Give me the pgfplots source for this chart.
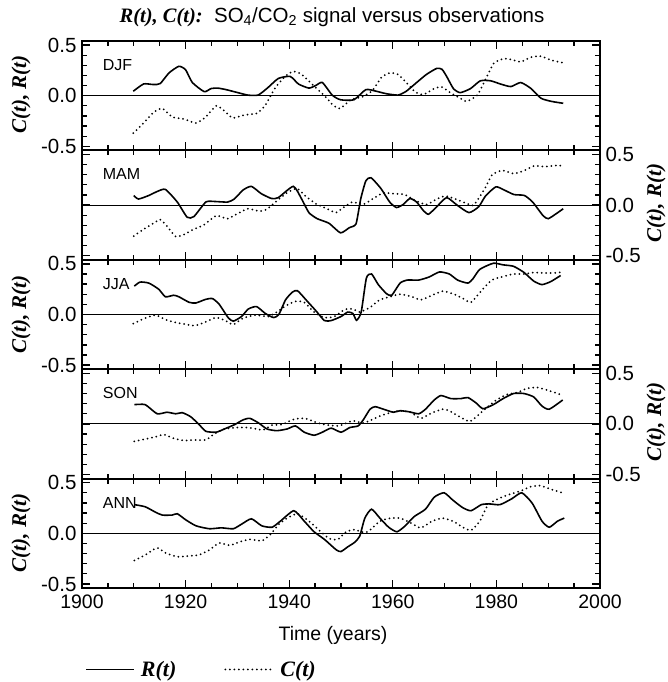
\documentclass[border=0pt]{standalone}
\usepackage{fontspec}
\setmainfont{Liberation Sans}
\newfontfamily\tms{Liberation Serif}
\usepackage{pgfplots}
\pgfplotsset{compat=1.18}
\pgfplotsset{
 panel/.style={
  scale only axis, width=518pt, height=109.4pt, anchor=north west,
  xmin=1900, xmax=2000, ymin=-0.54, ymax=0.54,
  xtick={1900,1920,...,2000}, minor x tick num=3,
  ytick={-0.5,0,0.5}, minor y tick num=4,
  xticklabels={}, yticklabels={},
  axis line style={line width=1.8pt},
  tick style={black, line width=1.3pt},
  major tick length=8pt, minor tick length=5pt,
  tick label style={font=\fontsize{20.5}{20.5}\selectfont},
 },
 Rline/.style={black, line width=1.6pt, smooth, tension=0.35, mark=none},
 Cline/.style={black, line width=2pt, line cap=round, dash pattern=on 0pt off 4.5pt, smooth, tension=0.35, mark=none},
}
\tikzset{plab/.style={anchor=west, inner sep=0pt, font=\fontsize{16}{16}\selectfont}}
\newcommand{\ylab}{\fontsize{21}{21}\selectfont\tms\bfseries\itshape C(t), R(t)}
\begin{document}
\begin{tikzpicture}
\path[use as bounding box] (0,0) rectangle (668pt,-682pt);
\node[font=\fontsize{20.5}{20.5}\selectfont] at (332pt,-17pt) {{\tms\bfseries\itshape R(t), C(t):}\ \ SO\textsubscript{4}/CO\textsubscript{2} signal versus observations};
% DJF
\begin{axis}[panel, at={(82pt,-41pt)}, yticklabels={-0.5,0.0,0.5}, yticklabel style={xshift=-2pt}]
\draw[line width=0.9pt] (axis cs:1900,0) -- (axis cs:2000,0);
\node[plab] at (rel axis cs:0.04,0.78) {DJF};
\addplot[Rline] coordinates {(1909.9,0.044)(1911.9,0.116)(1913.8,0.11)(1915.1,0.12)(1916.8,0.225)(1918.7,0.29)(1920.0,0.256)(1921.3,0.13)(1923.6,0.04)(1924.9,0.07)(1926.2,0.075)(1927.8,0.06)(1930.1,0.03)(1932.0,0.006)(1934.0,0.006)(1935.9,0.08)(1937.9,0.17)(1940.2,0.19)(1941.8,0.115)(1943.8,0.075)(1945.1,0.1)(1946.4,0.13)(1948.3,0.006)(1949.9,-0.04)(1952.5,-0.04)(1954.8,0.06)(1956.8,0.044)(1958.7,0.02)(1961.0,0.006)(1962.6,0.044)(1964.6,0.13)(1966.5,0.21)(1968.5,0.27)(1969.5,0.26)(1970.4,0.19)(1971.7,0.07)(1973.0,0.03)(1975.0,0.07)(1976.9,0.147)(1978.9,0.147)(1980.8,0.115)(1982.8,0.09)(1984.7,0.13)(1986.7,0.07)(1988.6,-0.025)(1990.6,-0.056)(1992.9,-0.075)};
\addplot[Cline] coordinates {(1909.9,-0.37)(1911.9,-0.27)(1913.8,-0.166)(1915.5,-0.125)(1917.4,-0.21)(1919.7,-0.23)(1922.0,-0.27)(1923.9,-0.21)(1925.9,-0.10)(1927.5,-0.15)(1929.1,-0.22)(1931.4,-0.19)(1933.7,-0.175)(1935.3,-0.10)(1937.2,0.07)(1939.2,0.19)(1940.8,0.24)(1942.4,0.21)(1944.7,0.10)(1947.0,-0.01)(1948.6,-0.10)(1949.9,-0.125)(1951.9,-0.04)(1954.2,-0.01)(1956.1,0.053)(1957.8,0.18)(1959.4,0.225)(1961.0,0.21)(1962.3,0.147)(1964.3,0.038)(1965.9,0.0125)(1968.2,0.075)(1969.5,0.084)(1971.4,0.02)(1973.0,-0.025)(1974.3,-0.056)(1976.3,0.006)(1977.6,0.13)(1979.5,0.32)(1981.5,0.366)(1983.4,0.35)(1984.7,0.334)(1986.7,0.38)(1988.6,0.39)(1990.6,0.35)(1992.9,0.325)};
\end{axis}
% MAM
\begin{axis}[panel, at={(82pt,-150.4pt)}, yticklabel pos=right, yticklabels={-0.5,0.0,0.5}, yticklabel style={xshift=2pt}]
\draw[line width=0.9pt] (axis cs:1900,0) -- (axis cs:2000,0);
\node[plab] at (rel axis cs:0.04,0.78) {MAM};
\addplot[Rline] coordinates {(1910.0,0.095)(1910.9,0.06)(1912.9,0.095)(1914.5,0.134)(1916.1,0.155)(1918.4,0.03)(1920.3,-0.12)(1921.6,-0.113)(1923.9,0.03)(1925.5,0.036)(1928.1,0.03)(1929.4,0.06)(1931.1,0.149)(1932.7,0.185)(1934.6,0.113)(1936.6,0.065)(1937.9,0.074)(1940.8,0.185)(1942.4,0.06)(1943.8,-0.074)(1945.4,-0.134)(1947.7,-0.18)(1949.9,-0.274)(1951.6,-0.223)(1952.9,-0.185)(1953.8,0.06)(1954.8,0.24)(1955.8,0.27)(1957.7,0.164)(1959.4,0.03)(1960.7,-0.024)(1962.0,0.006)(1963.3,0.065)(1964.6,0.03)(1965.9,-0.054)(1966.9,-0.09)(1968.5,-0.015)(1970.4,0.074)(1972.4,0)(1974.7,-0.074)(1976.6,-0.015)(1977.9,0.09)(1979.9,0.18)(1981.5,0.149)(1983.4,0.104)(1985.4,0.095)(1987.0,0.03)(1989.0,-0.104)(1990.0,-0.134)(1991.6,-0.083)(1992.9,-0.036)};
\addplot[Cline] coordinates {(1910.0,-0.306)(1911.9,-0.238)(1913.8,-0.18)(1915.1,-0.143)(1916.4,-0.208)(1918.1,-0.31)(1919.7,-0.29)(1921.6,-0.238)(1923.6,-0.193)(1925.9,-0.104)(1928.1,-0.134)(1930.1,-0.083)(1932.0,-0.036)(1934.3,-0.06)(1935.6,-0.045)(1937.2,0.024)(1939.5,0.119)(1941.5,0.164)(1943.1,0.09)(1945.1,0.015)(1947.0,-0.03)(1949.0,-0.074)(1950.3,-0.03)(1952.2,0.03)(1954.2,0.006)(1956.1,0.06)(1958.1,0.119)(1960.0,0.113)(1962.3,0.104)(1964.3,0.045)(1966.5,0.006)(1968.5,0.06)(1970.1,0.09)(1972.1,0.06)(1974.3,0.015)(1975.6,0)(1977.6,0.149)(1979.2,0.3)(1981.2,0.342)(1983.4,0.31)(1985.4,0.342)(1987.3,0.387)(1989.3,0.38)(1991.2,0.39)(1992.6,0.39)};
\end{axis}
% JJA
\begin{axis}[panel, at={(82pt,-259.8pt)}, yticklabels={-0.5,0.0,0.5}, yticklabel style={xshift=-2pt}]
\draw[line width=0.9pt] (axis cs:1900,0) -- (axis cs:2000,0);
\node[plab] at (rel axis cs:0.04,0.78) {JJA};
\addplot[Rline] coordinates {(1910.1,0.28)(1911.2,0.32)(1912.9,0.31)(1914.8,0.25)(1916.1,0.175)(1917.7,0.19)(1918.7,0.175)(1920.7,0.12)(1922.0,0.114)(1923.9,0.15)(1925.2,0.157)(1926.5,0.1)(1928.2,-0.03)(1929.2,-0.066)(1930.8,-0.02)(1932.1,0.054)(1933.7,0.078)(1935.4,0.01)(1937.0,-0.03)(1938.0,0)(1939.3,0.145)(1940.6,0.22)(1941.6,0.235)(1943.5,0.13)(1945.1,0.04)(1946.8,-0.06)(1948.1,-0.06)(1950.0,-0.02)(1951.3,0.024)(1952.3,0.01)(1953.0,-0.057)(1953.9,0.024)(1954.9,0.36)(1955.9,0.4)(1957.2,0.295)(1958.8,0.205)(1959.8,0.19)(1961.4,0.31)(1962.8,0.34)(1965.0,0.34)(1967.0,0.37)(1969.0,0.42)(1970.9,0.4)(1972.5,0.34)(1974.5,0.31)(1975.5,0.355)(1976.8,0.446)(1979.4,0.506)(1981.3,0.49)(1983.3,0.476)(1985.3,0.416)(1987.2,0.33)(1988.8,0.295)(1990.5,0.325)(1992.4,0.385)};
\addplot[Cline] coordinates {(1909.9,-0.09)(1912.2,-0.036)(1914.2,-0.006)(1916.1,-0.05)(1918.1,-0.08)(1920.0,-0.096)(1921.7,-0.11)(1923.6,-0.08)(1925.9,-0.03)(1927.9,-0.066)(1929.2,-0.1)(1931.1,-0.036)(1933.4,-0.006)(1936.0,-0.02)(1937.6,0.024)(1939.3,0.084)(1941.2,0.13)(1942.9,0.12)(1944.8,0.024)(1946.8,-0.03)(1948.7,-0.02)(1950.7,0.048)(1952.3,0.054)(1953.6,0.024)(1955.6,0.07)(1957.5,0.145)(1959.5,0.175)(1961.4,0.2)(1963.4,0.18)(1965.4,0.145)(1967.6,0.19)(1969.6,0.23)(1971.6,0.205)(1973.5,0.16)(1975.1,0.12)(1977.1,0.235)(1979.1,0.34)(1981.0,0.37)(1983.3,0.4)(1985.3,0.4)(1987.2,0.415)(1989.2,0.41)(1991.1,0.41)(1992.8,0.42)};
\end{axis}
% SON
\begin{axis}[panel, at={(82pt,-369.2pt)}, yticklabel pos=right, yticklabels={-0.5,0.0,0.5}, yticklabel style={xshift=2pt}]
\draw[line width=0.9pt] (axis cs:1900,0) -- (axis cs:2000,0);
\node[plab] at (rel axis cs:0.04,0.78) {SON};
\addplot[Rline] coordinates {(1910.1,0.19)(1912.2,0.19)(1914.5,0.1)(1916.4,0.115)(1918.1,0.1)(1919.4,0.11)(1921.0,0.07)(1922.6,-0.006)(1923.9,-0.073)(1925.9,-0.082)(1927.5,-0.05)(1929.5,-0.006)(1931.1,0.04)(1932.4,0.055)(1934.1,0.009)(1935.7,-0.05)(1937.6,-0.067)(1939.6,-0.05)(1941.2,-0.02)(1942.9,-0.082)(1944.8,-0.112)(1946.4,-0.082)(1948.1,-0.042)(1950.0,-0.082)(1951.7,-0.036)(1953.3,-0.02)(1954.3,0.04)(1955.6,0.145)(1956.6,0.17)(1958.2,0.145)(1960.1,0.115)(1961.4,0.13)(1963.1,0.12)(1965.0,0.1)(1966.3,0.145)(1968.0,0.236)(1969.3,0.28)(1971.2,0.25)(1973.2,0.25)(1974.5,0.26)(1976.1,0.206)(1977.4,0.15)(1979.4,0.19)(1981.3,0.25)(1983.3,0.3)(1985.3,0.3)(1987.2,0.266)(1988.8,0.176)(1990.2,0.145)(1992.8,0.236)};
\addplot[Cline] coordinates {(1910.1,-0.173)(1912.2,-0.15)(1914.2,-0.127)(1915.8,-0.106)(1917.7,-0.142)(1919.7,-0.164)(1921.7,-0.158)(1923.9,-0.158)(1925.6,-0.097)(1927.5,-0.05)(1929.8,-0.036)(1931.8,-0.036)(1933.7,-0.05)(1935.0,-0.06)(1936.7,-0.012)(1938.6,-0.006)(1940.6,0.04)(1942.2,0.055)(1943.5,0.048)(1945.5,0.009)(1947.4,-0.012)(1949.4,-0.02)(1950.7,0)(1952.3,0.03)(1954.3,0.009)(1955.9,0.04)(1957.9,0.085)(1959.8,0.115)(1961.4,0.13)(1963.4,0.115)(1965.4,0.055)(1967.6,0.11)(1969.6,0.145)(1970.9,0.13)(1972.9,0.07)(1974.8,0.024)(1976.1,0.07)(1978.1,0.16)(1980.0,0.236)(1982.0,0.29)(1984.0,0.31)(1985.9,0.35)(1987.9,0.36)(1990.2,0.327)(1992.4,0.29)};
\end{axis}
% ANN
\begin{axis}[panel, at={(82pt,-478.6pt)}, yticklabels={-0.5,0.0,0.5}, yticklabel style={xshift=-2pt},
  xticklabels={1900,1920,1940,1960,1980,2000},
  xticklabel style={font=\fontsize{19.5}{19.5}\selectfont, yshift=-3pt},
  legend style={at={(axis description cs:0.006,-0.745)}, anchor=west, draw=none, fill=none, inner sep=0pt,
    legend columns=2, font=\fontsize{22}{22}\selectfont\tms\bfseries\itshape,
    /tikz/every odd column/.append style={column sep=4pt},
    /tikz/every even column/.append style={column sep=46pt}},
  legend image code/.code={\draw[#1] (0pt,0pt) -- (48pt,0pt);}]
\draw[line width=0.9pt] (axis cs:1900,0) -- (axis cs:2000,0);
\node[plab] at (rel axis cs:0.04,0.78) {ANN};
\addplot[Rline] coordinates {(1910.1,0.283)(1912.2,0.262)(1914.2,0.208)(1915.5,0.18)(1917.4,0.18)(1918.4,0.193)(1920.0,0.134)(1922.0,0.074)(1924.6,0.045)(1926.9,0.054)(1929.2,0.045)(1930.8,0.09)(1932.7,0.143)(1934.7,0.074)(1936.7,0.06)(1938.3,0.12)(1940.9,0.223)(1942.9,0.12)(1944.8,0.015)(1946.8,-0.06)(1949.1,-0.164)(1950.0,-0.18)(1951.3,-0.134)(1952.6,-0.09)(1953.6,-0.03)(1954.6,0.15)(1955.9,0.238)(1957.5,0.15)(1959.2,0.06)(1960.8,0.015)(1962.4,0.074)(1964.1,0.164)(1966.3,0.238)(1968.0,0.357)(1969.9,0.4)(1971.6,0.327)(1973.5,0.253)(1975.1,0.223)(1977.1,0.283)(1978.7,0.29)(1980.7,0.283)(1983.0,0.342)(1984.9,0.4)(1986.9,0.298)(1988.8,0.12)(1990.2,0.06)(1991.8,0.12)(1993.1,0.15)};
\addlegendentry{R(t)}
\addplot[Cline] coordinates {(1910.1,-0.268)(1912.2,-0.214)(1914.5,-0.143)(1916.1,-0.193)(1918.4,-0.232)(1920.7,-0.223)(1922.6,-0.214)(1924.6,-0.164)(1926.5,-0.095)(1928.5,-0.119)(1930.5,-0.083)(1932.4,-0.06)(1934.7,-0.074)(1936.3,-0.015)(1938.0,0.09)(1939.6,0.149)(1941.6,0.193)(1943.8,0.12)(1946.1,0.015)(1947.8,-0.054)(1949.4,-0.06)(1951.0,0.015)(1952.6,0.036)(1954.6,0.006)(1955.9,0.045)(1957.5,0.12)(1959.5,0.149)(1961.4,0.149)(1963.4,0.104)(1965.4,0.054)(1967.6,0.12)(1969.6,0.149)(1971.6,0.12)(1973.5,0.06)(1975.1,0.03)(1976.8,0.12)(1978.4,0.283)(1980.4,0.342)(1982.3,0.38)(1984.6,0.417)(1986.6,0.46)(1988.5,0.47)(1990.8,0.43)(1992.8,0.4)};
\addlegendentry{C(t)}
\end{axis}
\node[rotate=90] at (21pt,-94.5pt) {\ylab};
\node[rotate=90] at (656pt,-203pt) {\ylab};
\node[rotate=90] at (21pt,-314.5pt) {\ylab};
\node[rotate=90] at (656pt,-422pt) {\ylab};
\node[rotate=90] at (21pt,-533pt) {\ylab};
\node[font=\fontsize{19.5}{19.5}\selectfont] at (333pt,-635pt) {Time (years)};
\end{tikzpicture}
\end{document}
